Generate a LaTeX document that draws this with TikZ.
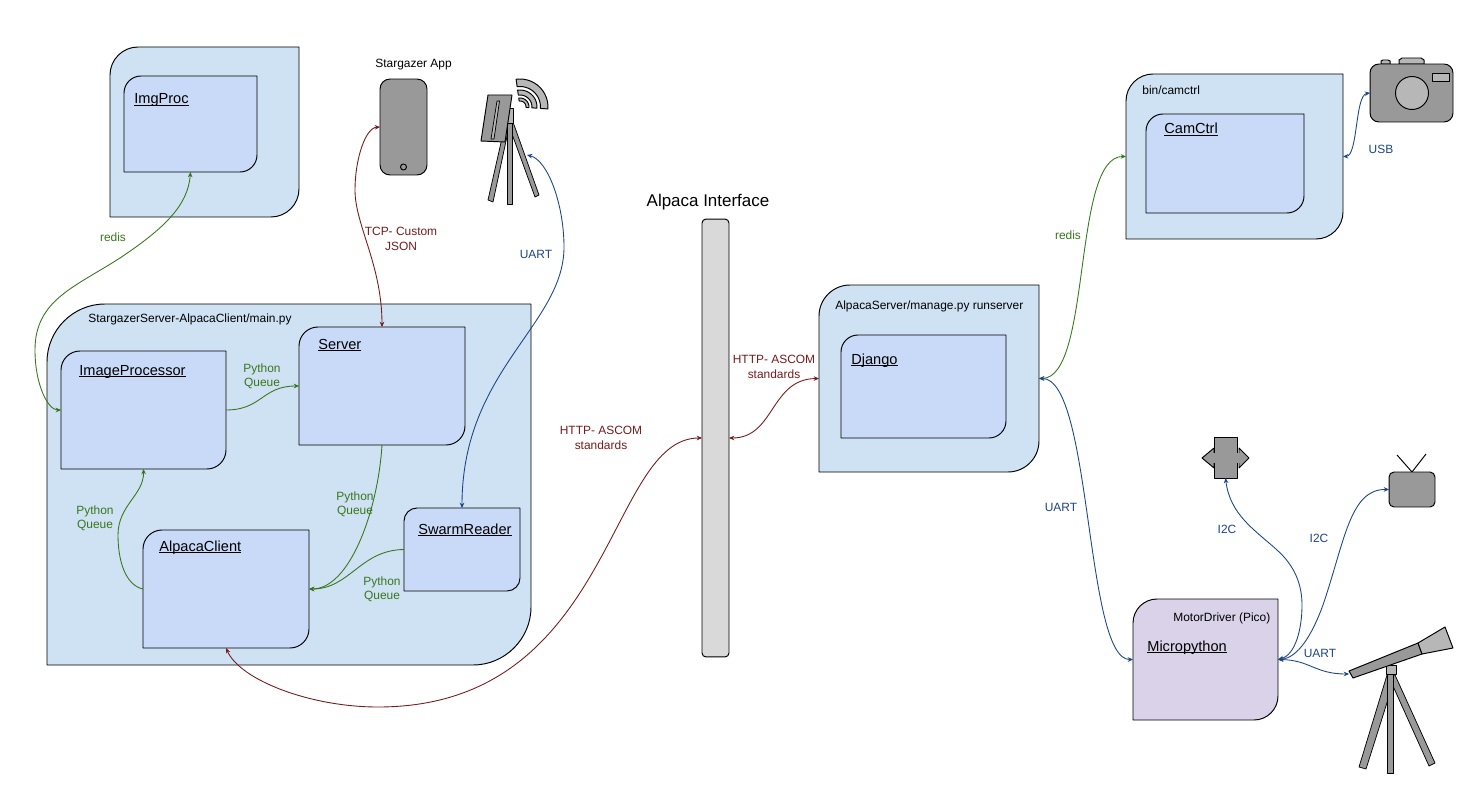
\documentclass[tikz,border=0pt]{standalone}
\usepackage{fontspec}
\setmainfont{Liberation Sans}
\usetikzlibrary{arrows.meta}
\definecolor{outerblue}{HTML}{CFE2F3}
\definecolor{innerblue}{HTML}{C9DAF8}
\definecolor{lilac}{HTML}{D9D2E9}
\definecolor{grn}{HTML}{38761D}
\definecolor{dred}{HTML}{741B1B}
\definecolor{dblue}{HTML}{1C4587}
\definecolor{gmid}{HTML}{999999}
\definecolor{glight}{HTML}{B7B7B7}
\definecolor{gbar}{HTML}{D9D9D9}
\newcommand\ulname[1]{\leavevmode\setbox0\hbox{#1}\rlap{\rule[-0.95pt]{\wd0}{0.45pt}}\box0}
\tikzset{
  outline/.style={draw=black,line width=0.55pt,line join=round},
  thinline/.style={draw=black,line width=0.42pt,line join=round},
  outerbox/.style={outline,fill=outerblue},
  innerbox/.style={outline,fill=innerblue},
  motorbox/.style={outline,fill=lilac},
  gfill/.style={outline,fill=gmid},
  lfill/.style={outline,fill=glight},
  tfill/.style={thinline,fill=gmid},
  anchorbox/.style={inner sep=0pt,outer sep=0pt},
  conn/.style={line width=0.5pt,{Stealth[length=3pt,width=2.6pt]}-{Stealth[length=3pt,width=2.6pt]}},
  oneway/.style={line width=0.5pt,-{Stealth[length=3pt,width=2.6pt]}},
  title/.style={anchor=base west,inner sep=0pt,font=\fontsize{6.8}{8.1}\selectfont},
  comp/.style={anchor=base west,inner sep=0pt,font=\fontsize{8.3}{10}\selectfont},
  lbl/.style={align=center,inner sep=0pt,font=\fontsize{6.8}{8.1}\selectfont},
}
\newcommand\blob[7]{%
  \draw[#1] ({#3},{#4+#7}) .. controls ({#3},{#4+0.45*#7}) and ({#3+0.45*#7},{#4}) .. ({#3+#7},{#4})
    -- (#5,#4) -- ({#5},{#6-#7}) .. controls ({#5},{#6-0.45*#7}) and ({#5-0.45*#7},{#6}) .. ({#5-#7},{#6})
    -- (#3,#6) -- cycle;
  \node[anchorbox,minimum width={(#5-#3)*0.02cm},minimum height={(#6-#4)*0.02cm}] (#2) at ({(#3+#5)/2},{(#4+#6)/2}) {};
}
\newcommand\wifiarc[2]{%
  \draw[lfill] plot[smooth,domain=-98:4,samples=14] ({520+#2*cos(\x)},{107+#2*sin(\x)})
    -- plot[smooth,domain=4:-98,samples=14] ({520+#1*cos(\x)},{107+#1*sin(\x)}) -- cycle;
}
\begin{document}
\begin{tikzpicture}[x=0.02cm,y=-0.02cm]
\useasboundingbox (0,0) rectangle (1474,787);
% boxes
\blob{outerbox}{imgprocouter}{110}{47}{299}{217}{28}
\blob{innerbox}{imgproc}{124}{76}{257}{172}{17}
\blob{outerbox}{mainouter}{47}{304}{531}{665}{58}
\blob{innerbox}{imageproc}{61}{351}{226}{469}{19}
\blob{innerbox}{server}{299}{327}{465}{445}{19}
\blob{innerbox}{swarm}{404}{508}{520}{591}{13}
\blob{innerbox}{client}{143}{530}{309}{648}{19}
\blob{outerbox}{djangoouter}{819}{285}{1039}{472}{31}
\blob{innerbox}{django}{841}{335}{1006}{438}{17}
\blob{outerbox}{camouter}{1126}{74}{1343}{239}{27}
\blob{innerbox}{camctrl}{1146}{114}{1304}{213}{17}
\blob{motorbox}{motor}{1133}{599}{1278}{720}{24}
% interface bar
\node[outline,fill=gbar,rounded corners=0.08cm,minimum width=0.54cm,minimum height=8.76cm,inner sep=0pt,outer sep=0pt] (bar) at (715.5,438) {};
% phone
\node[gfill,rounded corners=0.2cm,minimum width=0.94cm,minimum height=1.92cm,inner sep=0pt,outer sep=0pt] (phone) at (403.5,127) {};
\node[outline,circle,minimum size=0.12cm,inner sep=0pt] (phonebtn) at (403.5,167) {};
% dish tripod
\draw[tfill] (505,125) -- (509,127) -- (493,202) -- (488,200) -- cycle;
\draw[tfill] (508,123) -- (513,122) -- (539,195) -- (535,197) -- cycle;
\draw[tfill] (507,122) rectangle (512,204);
\draw[thinline,fill=glight] (507,108) rectangle (513,123);
\draw[gfill] (488,95) -- (512,95) -- (505,142) -- (481,141) -- cycle;
\draw[thinline,fill=glight] (497,101) -- (499.5,101) -- (494,139) -- (491,139) -- cycle;
\wifiarc{20.5}{28}
\wifiarc{12}{17}
\wifiarc{6}{9}
\coordinate (dishleg) at (527,155);
% camera
\draw[lfill] (1381,64) -- (1381,61) -- (1383,60) -- (1388,60) -- (1390,61) -- (1390,64) -- cycle;
\draw[lfill] (1399,64) -- (1399,60) -- (1402,58) -- (1421,58) -- (1424,60) -- (1424,64) -- cycle;
\node[gfill,rounded corners=0.18cm,minimum width=1.66cm,minimum height=1.16cm,inner sep=0pt,outer sep=0pt] (camera) at (1411.5,93) {};
\node[lfill,circle,minimum size=0.66cm,inner sep=0pt] (lens) at (1412,93) {};
\draw[thinline,fill=glight] (1432,73) rectangle (1449,81);
% chip
\draw[gfill] (1214,448) -- (1202,458) -- (1214,468) -- cycle;
\draw[gfill] (1239,448) -- (1249,458) -- (1239,468) -- cycle;
\node[gfill,minimum width=0.46cm,minimum height=0.82cm,inner sep=0pt,outer sep=0pt] (chip) at (1225.5,457.5) {};
\fill[gmid] (1212,453) rectangle (1216,463);
\fill[gmid] (1235,453) rectangle (1241,463);
% tv
\draw[outline] (1412,472) -- (1397,455);
\draw[outline] (1412,472) -- (1426,454);
\node[gfill,rounded corners=0.1cm,minimum width=0.92cm,minimum height=0.7cm,inner sep=0pt,outer sep=0pt] (tv) at (1412,489.5) {};
% telescope
\draw[tfill] (1387,675) -- (1391,690) -- (1366,769) -- (1359,767) -- cycle;
\draw[tfill] (1388,675) -- (1395,675) -- (1435,763) -- (1429,766) -- cycle;
\draw[tfill] (1387,674) rectangle (1393,773);
\draw[thinline,fill=glight] (1386,665) rectangle (1396,674);
\draw[gfill] (1349,671) -- (1418,643) -- (1422,654) -- (1353,678) -- cycle;
\draw[lfill] (1418,643) -- (1445,627) -- (1453,648) -- (1422,654) -- cycle;
\coordinate (scope) at (1349,674);
% connectors
\begin{scope}[color=grn]
\draw[conn] (imgproc.south) .. controls (188,205) and (165,228) .. (120,258) .. controls (75,287) and (35,300) .. (35,350) .. controls (35,385) and (48,410) .. (imageproc.west);
\draw[oneway] (imageproc.east) .. controls (262,410) and (262,386) .. (server.west);
\draw[oneway] (server.south) .. controls (378,510) and (350,589) .. (client.east);
\draw[oneway] (swarm.west) .. controls (360,550) and (350,589) .. (client.east);
\draw[oneway] (client.west) .. controls (125,585) and (118,560) .. (118,535) .. controls (118,505) and (144,495) .. (imageproc.south);
\draw[conn] (djangoouter.east) .. controls (1092,378) and (1072,156) .. (camouter.west);
\end{scope}
\begin{scope}[color=dred]
\draw[conn] (phone.west) .. controls (365,128) and (355,160) .. (355,190) .. controls (355,225) and (382,265) .. (server.north);
\draw[conn] (client.south) .. controls (240,680) and (310,707) .. (378,707) .. controls (614,707) and (607,438) .. (bar.west);
\draw[conn] (bar.east) .. controls (775,438) and (770,379) .. (djangoouter.west);
\end{scope}
\begin{scope}[color=dblue]
\draw[conn] (dishleg) .. controls (548,160) and (564,205) .. (564,247) .. controls (564,325) and (462,370) .. (swarm.north);
\draw[conn] (djangoouter.east) .. controls (1092,378) and (1085,660) .. (motor.west);
\draw[conn] (camera.west) .. controls (1355,95) and (1358,156) .. (camouter.east);
\draw[conn] (motor.east) .. controls (1295,655) and (1302,630) .. (1302,605) .. controls (1302,585) and (1295,566) .. (1277,550) .. controls (1255,530) and (1230,515) .. (chip.south);
\draw[conn] (motor.east) .. controls (1298,658) and (1312,635) .. (1323,605) .. controls (1345,540) and (1350,489) .. (tv.west);
\draw[conn] (motor.east) .. controls (1310,660) and (1315,674) .. (scope);
\end{scope}
% titles
\node[title] (t1) at (88,322) {StargazerServer-AlpacaClient/main.py};
\node[title] (t2) at (835,309) {AlpacaServer/manage.py runserver};
\node[title] (t3) at (1142,95) {bin/camctrl};
\node[title] (t4) at (1173,621) {MotorDriver (Pico)};
\node[title] (t5) at (375,68) {Stargazer App};
\node[anchor=base,inner sep=0pt,font=\fontsize{9.65}{11}\selectfont] (t6) at (708,207) {Alpaca Interface};
% component names
\node[comp] (c1) at (134,104) {\ulname{ImgProc}};
\node[comp] (c2) at (79,375) {\ulname{ImageProcessor}};
\node[comp] (c3) at (318,349) {\ulname{Server}};
\node[comp] (c4) at (418,534) {\ulname{SwarmReader}};
\node[comp] (c5) at (159,551) {\ulname{AlpacaClient}};
\node[comp] (c6) at (851,364) {\ulname{Django}};
\node[comp] (c7) at (1164,134) {\ulname{CamCtrl}};
\node[comp] (c8) at (1147,651) {\ulname{Micropython}};
% labels
\node[lbl,text=grn] (l1) at (113,237) {redis};
\node[lbl,text=grn] (l2) at (262,376) {Python\\Queue};
\node[lbl,text=grn] (l3) at (355,504) {Python\\Queue};
\node[lbl,text=grn] (l4) at (95,518) {Python\\Queue};
\node[lbl,text=grn] (l5) at (382,589) {Python\\Queue};
\node[lbl,text=grn] (l6) at (1068,235) {redis};
\node[lbl,text=dred] (l7) at (401,239) {TCP- Custom\\JSON};
\node[lbl,text=dred] (l8) at (601,438) {HTTP- ASCOM\\standards};
\node[lbl,text=dred] (l9) at (774,367) {HTTP- ASCOM\\standards};
\node[lbl,text=dblue] (l10) at (536,254) {UART};
\node[lbl,text=dblue] (l11) at (1381,149) {USB};
\node[lbl,text=dblue] (l12) at (1061,507) {UART};
\node[lbl,text=dblue] (l13) at (1227,529) {I2C};
\node[lbl,text=dblue] (l14) at (1319,538) {I2C};
\node[lbl,text=dblue] (l15) at (1320,653) {UART};
\end{tikzpicture}
\end{document}
